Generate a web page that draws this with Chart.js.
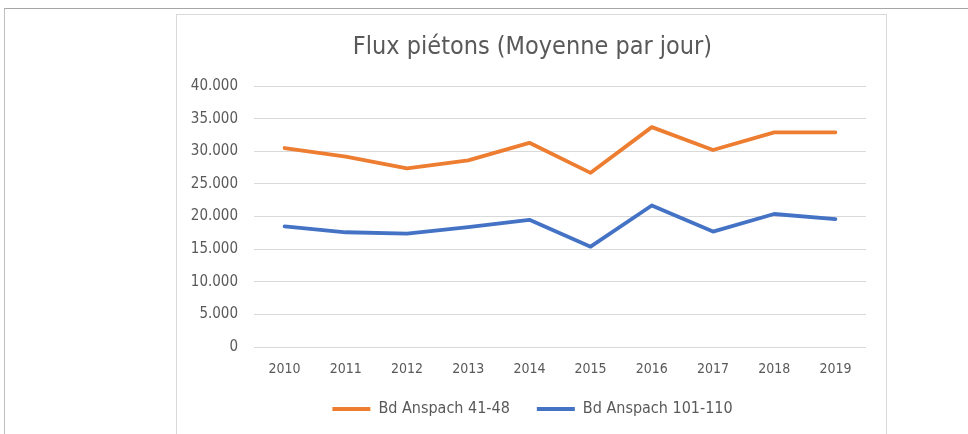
<!DOCTYPE html>
<html>
<head>
<meta charset="utf-8">
<script src="https://cdn.jsdelivr.net/npm/chart.js@4"></script>
<style>
  html, body { margin: 0; padding: 0; background: #fff; }
  body { width: 968px; height: 434px; position: relative; overflow: hidden; }
  /* outer page frame */
  #outer { position: absolute; left: 4px; top: 8px; width: 980px; height: 440px;
           border-top: 1px solid #a6a6a6; border-left: 1px solid #bfbfbf; }
  /* chart frame */
  #frame { position: absolute; left: 176px; top: 14px; width: 709px; height: 460px;
           border: 1px solid #d9d9d9; background: #fff; }
  #wrap { position: absolute; left: 1px; top: 1px; width: 709px; height: 440px; }
</style>
</head>
<body>
<div id="outer"></div>
<div id="frame"><div id="wrap"><canvas id="myChart"></canvas></div></div>
<script>
// years on the x axis
const years = ["2010", "2011", "2012", "2013", "2014", "2015", "2016", "2017", "2018", "2019"];
// average pedestrians per day
const anspach41 = [30500, 29200, 27400, 28600, 31300, 26700, 33700, 30200, 32900, 32900];
const anspach101 = [18500, 17600, 17400, 18400, 19500, 15400, 21700, 17700, 20400, 19600];
const seriesNames = ["Bd Anspach 41-48", "Bd Anspach 101-110"];
const seriesColors = ["#ED7D31", "#4472C4"];

const fontFam = "'Liberation Sans Narrow', 'DejaVu Sans Condensed', sans-serif";
const textColor = '#595959';

// format 40000 -> 40.000
function fmt(v) {
    return String(v).replace(/\B(?=(\d{3})+(?!\d))/g, ".");
}

const ctx = document.getElementById('myChart').getContext('2d');
new Chart(ctx, {
    type: 'line',
    data: {
        labels: years,
        datasets: [
            { label: seriesNames[0], data: anspach41, borderColor: seriesColors[0], backgroundColor: seriesColors[0] },
            { label: seriesNames[1], data: anspach101, borderColor: seriesColors[1], backgroundColor: seriesColors[1] }
        ]
    },
    options: {
        responsive: true,
        maintainAspectRatio: false,
        animation: false,
        elements: {
            line: { borderWidth: 3.8, tension: 0, borderJoinStyle: 'round', borderCapStyle: 'round' },
            point: { radius: 0 }
        },
        layout: { padding: { left: 0, right: 0, top: 0, bottom: 29 } },
        plugins: {
            title: {
                display: true,
                text: 'Flux piétons (Moyenne par jour)',
                color: textColor,
                font: { family: fontFam, size: 25, weight: 'normal' },
                padding: { top: 16, bottom: 24 }
            },
            legend: {
                position: 'bottom',
                labels: {
                    color: textColor,
                    font: { family: fontFam, size: 16 },
                    boxWidth: 38,
                    boxHeight: 4,
                    padding: 27,
                    // flat line markers, no stroke
                    generateLabels(chart) {
                        return chart.data.datasets.map((ds, i) => ({
                            text: ds.label,
                            fillStyle: ds.borderColor,
                            strokeStyle: ds.borderColor,
                            fontColor: textColor,
                            lineWidth: 0,
                            datasetIndex: i
                        }));
                    }
                }
            },
            tooltip: { enabled: false }
        },
        scales: {
            x: {
                offset: true,
                afterFit(scale) { scale.height -= 10; },
                grid: { display: false },
                border: { display: false },
                ticks: { color: textColor, font: { family: fontFam, size: 14 }, padding: 6, maxRotation: 0 }
            },
            y: {
                min: 0,
                max: 40000,
                afterFit(scale) { scale.width = 76; },
                grid: { color: '#d9d9d9', lineWidth: 1, drawTicks: false },
                border: { display: false },
                ticks: {
                    stepSize: 5000,
                    color: textColor,
                    font: { family: fontFam, size: 15 },
                    padding: 16,
                    callback: (v) => fmt(v)
                }
            },
            // empty right-hand margin so the plot ends before the frame
            yRight: {
                position: 'right',
                min: 0,
                max: 40000,
                afterFit(scale) { scale.width = 21; },
                grid: { display: false },
                border: { display: false },
                ticks: { display: false }
            }
        }
    }
});
</script>
</body>
</html>
